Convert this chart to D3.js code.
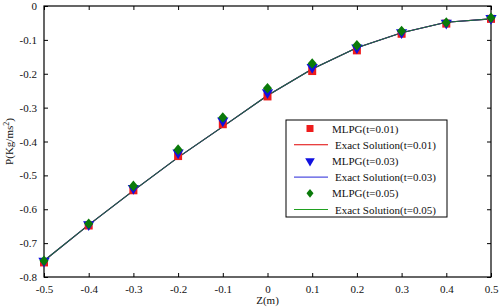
<!DOCTYPE html>
<html>
<head>
<meta charset="utf-8">
<script src="https://cdn.jsdelivr.net/npm/d3@7"></script>
<style>
  body { margin: 0; background: #fff; }
  svg { display: block; font-family: "Liberation Serif", "Times New Roman", serif; }
</style>
</head>
<body>
<svg id="chart" width="500" height="308"></svg>
<script>
const zValues = [-0.5, -0.4, -0.3, -0.2, -0.1, 0, 0.1, 0.2, 0.3, 0.4, 0.5];
const mlpg001 = [-0.757, -0.648, -0.544, -0.443, -0.349, -0.267, -0.192, -0.131, -0.082, -0.052, -0.038];
const mlpg003 = [-0.753, -0.645, -0.538, -0.433, -0.339, -0.255, -0.181, -0.123, -0.078, -0.050, -0.036];
const mlpg005 = [-0.752, -0.643, -0.531, -0.424, -0.329, -0.243, -0.170, -0.116, -0.074, -0.049, -0.035];
const exact001 = [-0.752, -0.646, -0.545, -0.447, -0.356, -0.264, -0.186, -0.123, -0.079, -0.048, -0.038];
const exact003 = [-0.752, -0.646, -0.545, -0.447, -0.356, -0.264, -0.186, -0.123, -0.079, -0.048, -0.038];
const exact005 = [-0.752, -0.646, -0.545, -0.447, -0.356, -0.264, -0.186, -0.123, -0.079, -0.048, -0.038];
const xTicks = [-0.5, -0.4, -0.3, -0.2, -0.1, 0, 0.1, 0.2, 0.3, 0.4, 0.5];
const yTicks = [0, -0.1, -0.2, -0.3, -0.4, -0.5, -0.6, -0.7, -0.8];
const legendLabels = ['MLPG(t=0.01)', 'Exact Solution(t=0.01)', 'MLPG(t=0.03)', 'Exact Solution(t=0.03)', 'MLPG(t=0.05)', 'Exact Solution(t=0.05)'];

const svg = d3.select('#chart');
const pLeft = 44, pRight = 491, pTop = 6, pBottom = 277;
const x = d3.scaleLinear().domain([-0.5, 0.5]).range([pLeft, pRight]);
const y = d3.scaleLinear().domain([-0.8, 0]).range([pBottom, pTop]);
const fmt = d => d === 0 ? '0' : d3.format('.1f')(d).replace('−', '-');

// axes with inward ticks
svg.append('g').attr('transform', `translate(0,${pBottom})`)
  .call(d3.axisBottom(x).tickValues(xTicks).tickSizeInner(-4).tickSizeOuter(0).tickPadding(8).tickFormat(fmt));
svg.append('g').attr('transform', `translate(0,${pTop})`)
  .call(d3.axisTop(x).tickValues(xTicks).tickSizeInner(-4).tickSizeOuter(0).tickFormat(''));
svg.append('g').attr('transform', `translate(${pLeft},0)`)
  .call(d3.axisLeft(y).tickValues(yTicks).tickSizeInner(-4).tickSizeOuter(0).tickPadding(7).tickFormat(fmt));
svg.append('g').attr('transform', `translate(${pRight},0)`)
  .call(d3.axisRight(y).tickValues(yTicks).tickSizeInner(-4).tickSizeOuter(0).tickFormat(''));
svg.selectAll('.tick text').attr('font-family', '"Liberation Serif", serif').attr('font-size', 11).attr('fill', '#111');
svg.selectAll('.domain').remove();
svg.append('rect').attr('x', pLeft).attr('y', pTop).attr('width', pRight - pLeft).attr('height', pBottom - pTop)
  .attr('fill', 'none').attr('stroke', '#000').attr('stroke-width', 1.2);

svg.append('text').attr('x', x(0)).attr('y', 304).attr('text-anchor', 'middle').attr('font-size', 11).attr('fill', '#111').text('Z(m)');
const yl = svg.append('text').attr('transform', `translate(13,${(pTop + pBottom) / 2}) rotate(-90)`)
  .attr('text-anchor', 'middle').attr('font-size', 11).attr('fill', '#111');
yl.append('tspan').text('P(Kg/ms');
yl.append('tspan').attr('font-size', 8).attr('dy', -4).text('2');
yl.append('tspan').attr('dy', 4).text(')');

// exact lines
const line = d3.line().x((d, i) => x(zValues[i])).y(d => y(d));
[[exact001, '#e00000'], [exact003, '#2020e0'], [exact005, '#1f6b3a']].forEach(([vals, c]) => {
  svg.append('path').datum(vals).attr('d', line).attr('fill', 'none').attr('stroke', c).attr('stroke-width', 1.1);
});

// markers
const sq = d3.symbol().type(d3.symbolSquare).size(64);
const tri = d3.symbol().type(d3.symbolTriangle).size(55);
const dia = d3.symbol().type(d3.symbolDiamond).size(32);
svg.append('g').selectAll('path').data(mlpg001).join('path')
  .attr('d', sq).attr('transform', (d, i) => `translate(${x(zValues[i])},${y(d)})`).attr('fill', '#ee1c1c');
svg.append('g').selectAll('path').data(mlpg003).join('path')
  .attr('d', tri).attr('transform', (d, i) => `translate(${x(zValues[i])},${y(d)}) rotate(180)`).attr('fill', '#1010e0');
svg.append('g').selectAll('path').data(mlpg005).join('path')
  .attr('d', dia).attr('transform', (d, i) => `translate(${x(zValues[i])},${y(d)}) scale(1.5,1)`).attr('fill', '#0a7a0a');

// legend
const lg = svg.append('g');
lg.append('rect').attr('x', 286).attr('y', 120).attr('width', 161).attr('height', 97)
  .attr('fill', '#fff').attr('stroke', '#000').attr('stroke-width', 1);
const rowY = i => 128.5 + i * 16.2;
const legendStyle = [
  { type: 'sq', color: '#ee1c1c' }, { type: 'line', color: '#e00000' },
  { type: 'tri', color: '#1010e0' }, { type: 'line', color: '#5050e0' },
  { type: 'dia', color: '#0a7a0a' }, { type: 'line', color: '#20a020' }
];
const sqL = d3.symbol().type(d3.symbolSquare).size(49);
const triL = d3.symbol().type(d3.symbolTriangle).size(40);
const diaL = d3.symbol().type(d3.symbolDiamond).size(22);
legendLabels.forEach((lab, i) => {
  const s = legendStyle[i];
  const cy = rowY(i);
  if (s.type === 'line') {
    lg.append('line').attr('x1', 294).attr('x2', 328).attr('y1', cy).attr('y2', cy).attr('stroke', s.color).attr('stroke-width', 1.1);
    lg.append('text').attr('x', 335).attr('y', cy + 4).attr('font-size', 11).attr('fill', '#111').text(lab);
  } else {
    const sym = s.type === 'sq' ? sqL : s.type === 'tri' ? triL : diaL;
    const extra = s.type === 'tri' ? ' rotate(180)' : s.type === 'dia' ? ' scale(1.4,1)' : '';
    lg.append('path').attr('d', sym).attr('transform', `translate(310,${cy})${extra}`).attr('fill', s.color);
    lg.append('text').attr('x', 332).attr('y', cy + 4).attr('font-size', 11).attr('fill', '#111').text(lab);
  }
});
</script>
</body>
</html>
